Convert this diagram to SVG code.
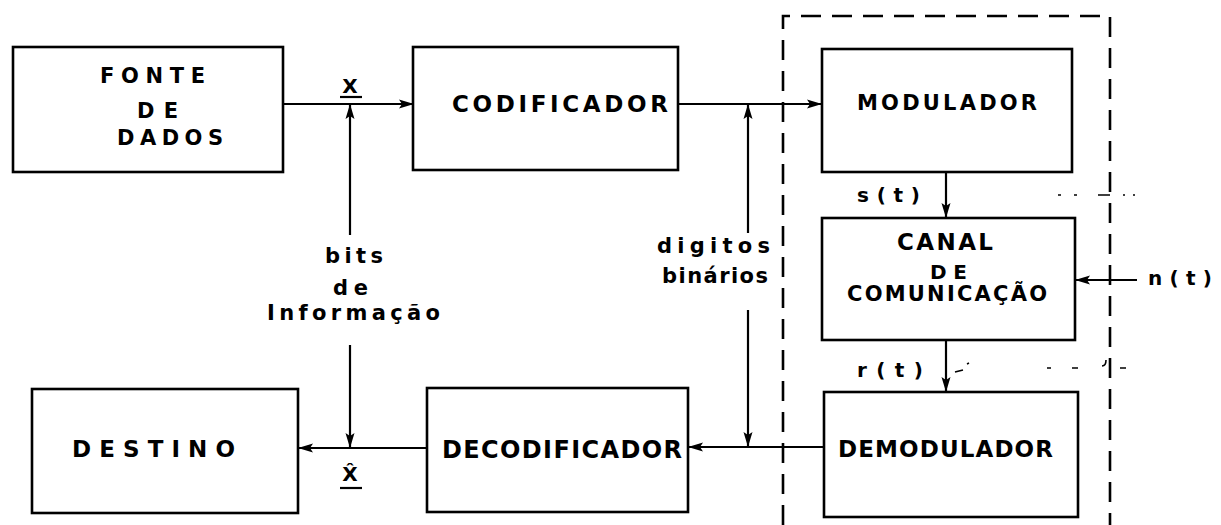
<svg xmlns="http://www.w3.org/2000/svg" width="1221" height="525" viewBox="0 0 1221 525">
<style>
.box{fill:none;stroke:#000;stroke-width:2.6}
.lbl{font-family:"DejaVu Sans","Liberation Sans",Arial,sans-serif;font-weight:bold;fill:#000}
.cn{stroke:#000;stroke-width:2.2;fill:none}
.dash{stroke:#000;stroke-width:2.6;fill:none;stroke-dasharray:20 11}
.noise{stroke:#000;stroke-width:1.6;fill:none}
</style>
<defs>
<marker id="ah" markerUnits="userSpaceOnUse" markerWidth="16" markerHeight="10" refX="14" refY="5" orient="auto">
<path d="M0,0.5 L15,5 L0,9.5 L3,5 z" fill="#000"/>
</marker>
</defs>
<rect width="1221" height="525" fill="#fff"/>

<g id="boundary">
<path class="dash" d="M783,525 V16 H1110 V525"/>
</g>

<g id="fonte">
<rect class="box" x="13" y="47" width="270" height="125"/>
<text class="lbl" x="100" y="83" font-size="21" textLength="105" lengthAdjust="spacing">FONTE</text>
<text class="lbl" x="137" y="118" font-size="21" textLength="41" lengthAdjust="spacing">DE</text>
<text class="lbl" x="117" y="145" font-size="21" textLength="106" lengthAdjust="spacing">DADOS</text>
</g>

<g id="codificador">
<rect class="box" x="413" y="47" width="265" height="123"/>
<text class="lbl" x="452" y="112" font-size="23" textLength="216" lengthAdjust="spacing">CODIFICADOR</text>
</g>

<g id="modulador">
<rect class="box" x="822" y="49" width="250" height="123"/>
<text class="lbl" x="857" y="110" font-size="21" textLength="180" lengthAdjust="spacing">MODULADOR</text>
</g>

<g id="canal">
<rect class="box" x="822" y="218" width="253" height="122"/>
<text class="lbl" x="897" y="250" font-size="23" textLength="96" lengthAdjust="spacing">CANAL</text>
<text class="lbl" x="930" y="279" font-size="20" textLength="37" lengthAdjust="spacing">DE</text>
<text class="lbl" x="847" y="301" font-size="21" textLength="200" lengthAdjust="spacing">COMUNICAÇÃO</text>
</g>

<g id="demodulador">
<rect class="box" x="824" y="392" width="254" height="125"/>
<text class="lbl" x="838" y="457" font-size="23" textLength="215" lengthAdjust="spacing">DEMODULADOR</text>
</g>

<g id="decodificador">
<rect class="box" x="427" y="388" width="261" height="124"/>
<text class="lbl" x="442" y="458" font-size="24" textLength="240" lengthAdjust="spacing">DECODIFICADOR</text>
</g>

<g id="destino">
<rect class="box" x="32" y="389" width="266" height="124"/>
<text class="lbl" x="72" y="457" font-size="23" textLength="163" lengthAdjust="spacing">DESTINO</text>
</g>

<g id="connectors">
<line class="cn" x1="283" y1="104" x2="413" y2="104" marker-end="url(#ah)"/>
<line class="cn" x1="350" y1="235" x2="350" y2="105" marker-end="url(#ah)"/>
<line class="cn" x1="678" y1="104" x2="821" y2="104" marker-end="url(#ah)"/>
<line class="cn" x1="748" y1="233" x2="748" y2="105" marker-end="url(#ah)"/>
<line class="cn" x1="946" y1="172" x2="946" y2="217" marker-end="url(#ah)"/>
<line class="cn" x1="1137" y1="280" x2="1076" y2="280" marker-end="url(#ah)"/>
<line class="cn" x1="946" y1="340" x2="946" y2="391" marker-end="url(#ah)"/>
<line class="cn" x1="824" y1="447" x2="689" y2="447" marker-end="url(#ah)"/>
<line class="cn" x1="748" y1="310" x2="748" y2="446" marker-end="url(#ah)"/>
<line class="cn" x1="427" y1="448" x2="299" y2="448" marker-end="url(#ah)"/>
<line class="cn" x1="350" y1="345" x2="350" y2="447" marker-end="url(#ah)"/>
</g>

<g id="labels">
<text class="lbl" x="350" y="93" font-size="20" text-anchor="middle">X</text>
<line class="cn" x1="340" y1="97" x2="362" y2="97"/>
<text class="lbl" x="350" y="481" font-size="20" text-anchor="middle">X̂</text>
<line class="cn" x1="340" y1="488" x2="362" y2="488"/>
<text class="lbl" x="325" y="263" font-size="21" textLength="58" lengthAdjust="spacing">bits</text>
<text class="lbl" x="333" y="295" font-size="21" textLength="35" lengthAdjust="spacing">de</text>
<text class="lbl" x="267" y="320" font-size="21" textLength="173" lengthAdjust="spacing">Informação</text>
<text class="lbl" x="657" y="253" font-size="21" textLength="113" lengthAdjust="spacing">digitos</text>
<text class="lbl" x="662" y="283" font-size="21" textLength="106" lengthAdjust="spacing">binários</text>
<text class="lbl" x="857" y="202" font-size="20" textLength="63" lengthAdjust="spacing">s(t)</text>
<text class="lbl" x="857" y="377" font-size="20" textLength="66" lengthAdjust="spacing">r(t)</text>
<text class="lbl" x="1148" y="285" font-size="20" textLength="64" lengthAdjust="spacing">n(t)</text>
</g>

<g id="marks">
<path class="noise" d="M1058,195 h3 M1074,195 h3 M1098,195 h12 M1123,195 h2 M1133,195 h2"/>
<path class="noise" d="M955,372 l8,-2 M967,364 l2,-1 M1047,368 h4 M1072,368 h6 M1102,366 q4,0 4,-6 M1120,368 h6"/>
</g>
</svg>
